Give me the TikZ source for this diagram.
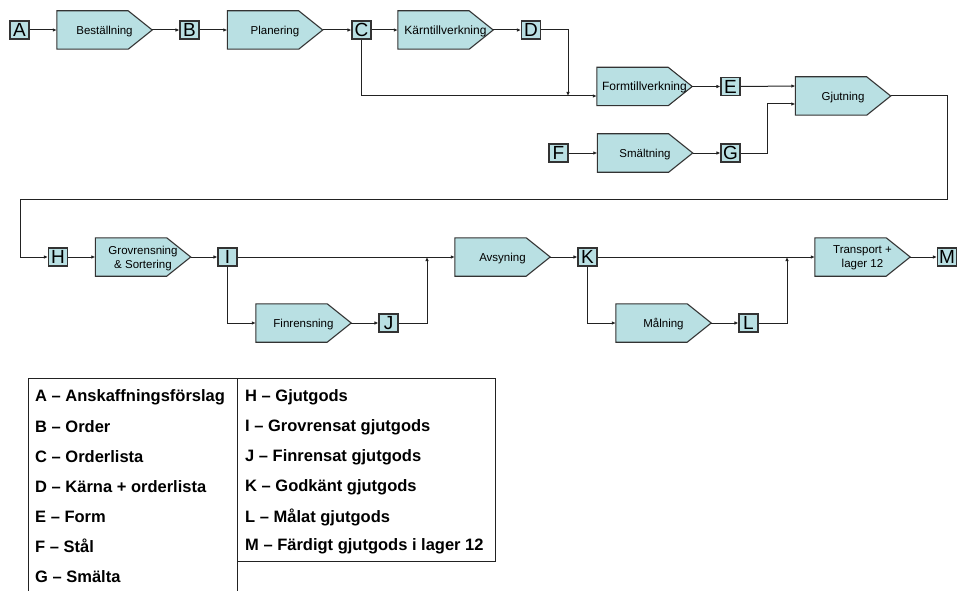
\documentclass[tikz,border=0pt]{standalone}
\usepackage{fontspec}
\setmainfont{Liberation Sans}
\usetikzlibrary{arrows.meta,backgrounds}
\definecolor{boxfill}{HTML}{B9E0E3}
\definecolor{edge}{HTML}{333333}
\definecolor{wire}{HTML}{222222}

\begin{document}
\begin{tikzpicture}[x=1pt,y=-1pt,
  proc/.style={rectangle, minimum width=95pt, minimum height=38pt,
    inner sep=0pt, text depth=0pt, font=\fontsize{11.5}{14}\selectfont, align=center},
  procline/.style={draw=edge, line width=1.1pt, fill=boxfill, line join=miter},
  item/.style={rectangle, draw=edge, line width=1.1pt, fill=boxfill,
    minimum width=19pt, minimum height=18pt, inner sep=0pt,
    font=\fontsize{19}{19}\selectfont},
  flow/.style={draw=wire, line width=1pt, -{Latex[length=4pt,width=3.5pt]}},
  link/.style={draw=wire, line width=1pt},
  key/.style={anchor=west, font=\fontsize{16.5}{16.5}\selectfont\bfseries, inner sep=0pt}]

\useasboundingbox (0,0) rectangle (958,591);

% --- top row: ordering and planning
\node[item] (A) at (19.5,30) {A};
\node[proc] (bes) at (104.5,30) {Beställning};
\node[item] (B) at (189.5,30) {B};
\node[proc] (plan) at (275,30) {Planering};
\node[item] (C) at (361.5,30) {C};
\node[proc, font=\fontsize{12}{14}\selectfont] (karn) at (445.5,30) {Kärntillverkning};
\node[item] (D) at (531,30) {D};

% --- moulding, melting and casting
\node[proc, font=\fontsize{12}{14}\selectfont] (form) at (644.5,86.5) {Formtillverkning};
\node[item] (E) at (730.5,86.5) {E};
\node[item] (F) at (558.5,153) {F};
\node[proc] (smalt) at (645,153) {Smältning};
\node[item] (G) at (730.5,153) {G};
\node[proc] (gj) at (843,96) {Gjutning};

% --- bottom row: cleaning, inspection, painting
\node[item] (H) at (58,257) {H};
\node[proc] (grov) at (143,257) {Grovrensning\\\& Sortering};
\node[item] (I) at (227.5,257) {I};
\node[proc] (fin) at (303.5,323) {Finrensning};
\node[item] (J) at (388.5,323) {J};
\node[proc] (avs) at (502.5,257) {Avsyning};
\node[item] (K) at (587.5,257) {K};
\node[proc] (mal) at (663.5,323) {Målning};
\node[item] (L) at (748.5,323) {L};
\node[proc] (trans) at (862.5,257) {Transport +\\lager 12};
\node[item] (M) at (947,257) {M};

% pointed process outlines behind the process labels
\begin{scope}[on background layer]
\foreach \p in {bes,plan,karn,form,smalt,gj,grov,fin,avs,mal,trans}
  \path[procline] (\p.north west) -- ([xshift=-24pt]\p.north east) -- (\p.east)
    -- ([xshift=-24pt]\p.south east) -- (\p.south west) -- cycle;
\end{scope}

% junction and bend points
\coordinate (dj) at (568,96);
\coordinate (gbend) at (767,153);
\coordinate (r1) at (947,96);
\coordinate (r2) at (947,199);
\coordinate (l1) at (20,199);
\coordinate (ij) at (427,257);
\coordinate (kj) at (787,257);

% --- connectors
\draw[flow] (A) -- (bes);
\draw[flow] (bes) -- (B);
\draw[flow] (B) -- (plan);
\draw[flow] (plan.east) -- (C.west);
\draw[flow] (C) -- (karn);
\draw[flow] (karn.east) -- (D.west);
\draw[flow] (D.east) -| (dj);
\draw[flow] (C.south) |- ([yshift=-9.5pt]form.west);
\draw[flow] (form.east) -- (E.west);
\draw[flow] (E.east) -- ([yshift=10pt]gj.west);
\draw[flow] (F) -- (smalt);
\draw[flow] (smalt.east) -- (G.west);
\draw[flow] (G.east) -- (gbend) |- ([yshift=-8pt]gj.west);
\draw[flow] (gj.east) -- (r1) -- (r2) -- (l1) |- (H.west);
\draw[flow] (H) -- (grov);
\draw[flow] (grov.east) -- (I.west);
\draw[flow] (I.east) -- (avs.west);
\draw[flow] (I.south) |- (fin.west);
\draw[flow] (fin.east) -- (J.west);
\draw[flow] (J.east) -| (ij);
\draw[flow] (avs.east) -- (K.west);
\draw[flow] (K.east) -- (trans.west);
\draw[flow] (K.south) |- (mal.west);
\draw[flow] (mal.east) -- (L.west);
\draw[flow] (L.east) -| (kj);
\draw[flow] (trans.east) -- (M.west);

% --- legend
\draw[link] (28,591) -- (28,378) -- (237,378) -- (237,591);
\draw[link] (237,378) rectangle (495,561);

\node[key] (kA) at (35,397) {A – Anskaffningsförslag};
\node[key] (kB) at (35,427) {B – Order};
\node[key] (kC) at (35,457) {C – Orderlista};
\node[key] (kD) at (35,487) {D – Kärna + orderlista};
\node[key] (kE) at (35,517) {E – Form};
\node[key] (kF) at (35,546) {F – Stål};
\node[key] (kG) at (35,577) {G – Smälta};

\node[key] (kH) at (245,397) {H – Gjutgods};
\node[key] (kI) at (245,427) {I – Grovrensat gjutgods};
\node[key] (kJ) at (245,457) {J – Finrensat gjutgods};
\node[key] (kK) at (245,487) {K – Godkänt gjutgods};
\node[key] (kL) at (245,517) {L – Målat gjutgods};
\node[key] (kM) at (245,546) {M – Färdigt gjutgods i lager 12};
\end{tikzpicture}
\end{document}
